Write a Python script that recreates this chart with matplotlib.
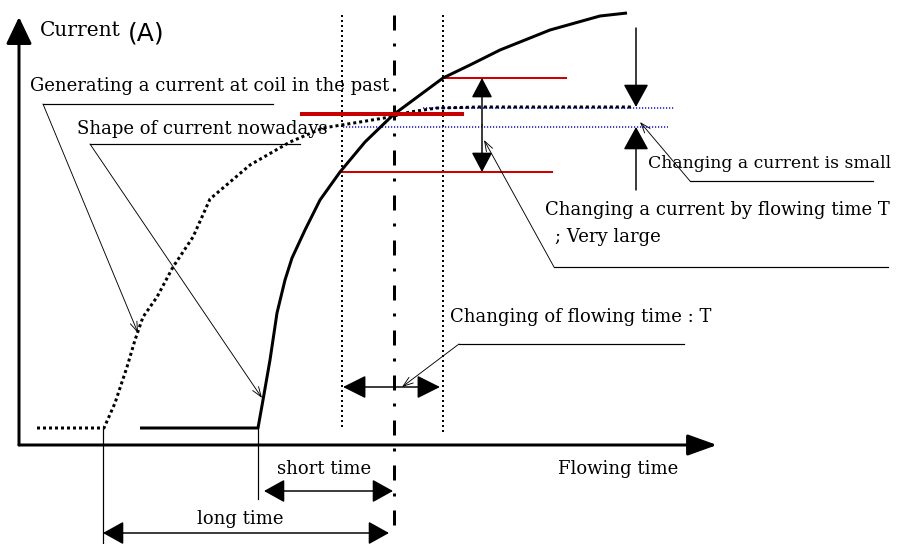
import matplotlib
matplotlib.use("Agg")
import matplotlib.pyplot as plt

plt.rcParams['lines.scale_dashes'] = False
plt.rcParams['font.family'] = ['DejaVu Serif']

# ---- data (pixel-space schematic coordinates) ----
# present-day current curve (solid)
now_x = [140, 258, 263, 270, 277, 285, 292, 305, 320, 340, 365, 393, 420, 443, 470, 500, 550, 600, 627]
now_y = [428, 428, 400, 360, 313, 280, 258, 230, 200, 172, 142, 115, 95, 78, 65, 50, 30, 16, 13]
# past current curve (dotted)
past_x = [37, 104, 115, 127, 135, 143, 157, 173, 193, 210, 250, 290, 323, 360, 390, 410, 437, 480, 633]
past_y = [428, 428, 403, 367, 340, 317, 297, 267, 237, 199, 165, 142, 128, 122, 117, 112, 108, 107, 107]

# reference levels
red_thick = dict(y=114, x0=302, x1=462)
red_thin = [dict(y=78, x0=443, x1=566), dict(y=172, x0=342, x1=552)]
blue_dot = [dict(y=108, x0=423, x1=675), dict(y=127, x0=343, x1=668)]

# vertical guides
t_center = 394
t_left, t_right = 342, 443

labels = {
    'gen': "Generating a current at coil in the past",
    'shape': "Shape of current nowadays",
    'small': "Changing a current is small",
    'large1': "Changing a current by flowing time T",
    'large2': "; Very large",
    'chgT': "Changing of flowing time : T",
    'xlab': "Flowing time",
    'ylab': "Current",
    'unit': "(A)",
    'short': "short time",
    'long': "long time",
}

fig = plt.figure(figsize=(8.99, 5.44), dpi=100)
ax = fig.add_axes([0, 0, 1, 1])
ax.set_xlim(0, 899)
ax.set_ylim(544, 0)
ax.axis('off')

PX = 0.72  # points per pixel


def arrow(tail, tip, style='-|>', hl=16, hw=8, lw=1.0, color='k'):
    ax.annotate('', xy=tip, xytext=tail,
                arrowprops=dict(arrowstyle=f'{style},head_length={hl},head_width={hw}',
                                lw=lw, color=color, shrinkA=0, shrinkB=0,
                                mutation_scale=1))


# axes
arrow((19, 445), (19, 17), hl=23 * PX, hw=11 * PX, lw=3 * PX)
arrow((19, 445), (717, 445), hl=25 * PX, hw=9 * PX, lw=3 * PX)

# vertical guides
ax.plot([t_left, t_left], [15, 430], color='k', lw=2 * PX, ls=(0, (2 * PX, 3 * PX)), dash_capstyle='butt')
ax.plot([t_right, t_right], [15, 432], color='k', lw=2 * PX, ls=(0, (2 * PX, 3 * PX)), dash_capstyle='butt')
ax.plot([t_center, t_center], [15, 538], color='k', lw=3 * PX,
        ls=(0, (15 * PX, 13 * PX, 3 * PX, 14 * PX)), dash_capstyle='butt')

# red and blue level lines
for r in red_thin:
    ax.plot([r['x0'], r['x1']], [r['y'], r['y']], color='#d00000', lw=2 * PX)
for b in blue_dot:
    ax.plot([b['x0'], b['x1']], [b['y'], b['y']], color='#0000ff', lw=1.5 * PX,
            ls=(0, (1.2 * PX, 1.8 * PX)), dash_capstyle='butt')

# curves
ax.plot(past_x, past_y, color='k', lw=3 * PX, ls=(0, (3 * PX, 3 * PX)), dash_capstyle='butt')
ax.plot(now_x, now_y, color='k', lw=3 * PX, solid_capstyle='butt')
ax.plot([red_thick['x0'], red_thick['x1']], [red_thick['y']] * 2, color='#c80000', lw=4 * PX)

# current-change arrows
arrow((482, 125), (482, 78), style='-|>', hl=17 * PX, hw=9 * PX, lw=1.5 * PX)
arrow((482, 125), (482, 172), style='-|>', hl=17 * PX, hw=9 * PX, lw=1.5 * PX)
arrow((636, 28), (636, 107), hl=20 * PX, hw=11 * PX, lw=1.5 * PX)
arrow((636, 190), (636, 127), hl=20 * PX, hw=11 * PX, lw=1.5 * PX)

# time arrows
arrow((343, 387), (440, 387), style='<|-|>', hl=20 * PX, hw=10 * PX, lw=1.5 * PX)
ax.plot([103, 103], [428, 544], color='k', lw=1.2 * PX)
ax.plot([258, 258], [428, 499], color='k', lw=1.2 * PX)
arrow((264, 491), (393, 491), style='<|-|>', hl=18 * PX, hw=10 * PX, lw=1.5 * PX)
arrow((103, 533), (389, 533), style='<|-|>', hl=18 * PX, hw=10 * PX, lw=1.5 * PX)


# leaders (underline + thin line + open head)
def leader(ux0, ux1, uy, tip):
    ax.plot([ux1, ux0], [uy, uy], color='k', lw=1.2 * PX)
    arrow((ux0, uy), tip, style='->', hl=10 * PX, hw=3.5 * PX, lw=0.9 * PX)


leader(43, 273, 104, (138, 333))
leader(90, 300, 144, (262, 398))
leader(690, 873, 181, (640, 122))
leader(554, 888, 267, (484, 140))
leader(459, 684, 344, (402, 387))

# texts
fs = 13
ax.text(40, 31, labels['ylab'], fontsize=14.5, va='center', ha='left')
ax.text(128, 34, labels['unit'], fontsize=18, va='center', ha='left', family='DejaVu Sans')
ax.text(30, 86, labels['gen'], fontsize=fs, va='center', ha='left')
ax.text(77, 129, labels['shape'], fontsize=fs, va='center', ha='left')
ax.text(648, 164, labels['small'], fontsize=12.4, va='center', ha='left')
ax.text(545, 210, labels['large1'], fontsize=fs, va='center', ha='left')
ax.text(555, 237, labels['large2'], fontsize=fs, va='center', ha='left')
ax.text(450, 317, labels['chgT'], fontsize=fs, va='center', ha='left')
ax.text(558, 469, labels['xlab'], fontsize=fs, va='center', ha='left')
ax.text(324, 469, labels['short'], fontsize=fs, va='center', ha='center')
ax.text(240, 519, labels['long'], fontsize=fs, va='center', ha='center')

fig.savefig('out.png', dpi=100)
